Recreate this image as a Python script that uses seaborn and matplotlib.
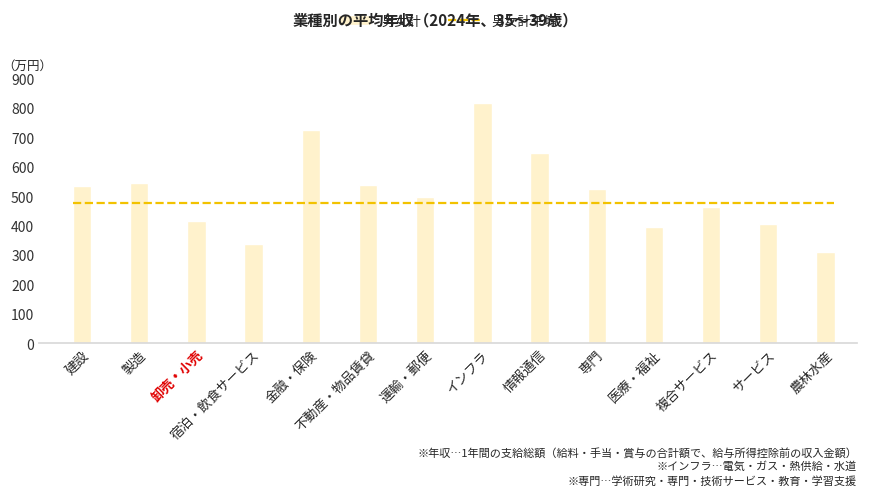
import matplotlib
matplotlib.use("Agg")
import matplotlib.pyplot as plt
import seaborn as sns
import pandas as pd

# データ
industries = ["建設", "製造", "卸売・小売", "宿泊・飲食サービス", "金融・保険",
              "不動産・物品賃貸", "運輸・郵便", "インフラ", "情報通信", "専門",
              "医療・福祉", "複合サービス", "サービス", "農林水産"]
incomes = [533, 543, 414, 336, 723, 537, 496, 815, 645, 523, 394, 462, 404, 309]
avg_income = 476

sns.set_theme(style="white")
plt.rcParams["font.family"] = ["Noto Sans CJK JP", "DejaVu Sans"]

df = pd.DataFrame({"industry": industries, "income": incomes})

fig, ax = plt.subplots(figsize=(8.7, 4.89), dpi=100)
fig.subplots_adjust(left=0.045, right=0.985, top=0.838, bottom=0.296)

sns.barplot(data=df, x="industry", y="income", color="#FFF2CC", saturation=1,
            width=0.32, ax=ax, label="男女計")
ax.plot([-0.15, len(industries) - 0.85], [avg_income, avg_income],
        color="#F2C200", linestyle="--", linewidth=1.6, label="男女計平均")

ax.set_ylim(0, 900)
ax.set_yticks(range(0, 901, 100))
ax.set_xlim(-0.75, len(industries) - 0.45)
ax.set_xlabel("")
ax.set_ylabel("")
ax.tick_params(axis="y", labelsize=10, colors="#333333", length=0)
ax.tick_params(axis="x", labelsize=9.5, length=0)
for s in ["top", "right", "left"]:
    ax.spines[s].set_visible(False)
ax.spines["bottom"].set_color("#d9d9d9")

ax.set_xticks(range(len(industries)))
ax.set_xticklabels(industries, rotation=45, ha="right", rotation_mode="anchor")
for lbl in ax.get_xticklabels():
    if lbl.get_text() == "卸売・小売":
        lbl.set_color("#E00000")
        lbl.set_fontweight("bold")

ax.text(-0.045, 1.035, "（万円）", transform=ax.transAxes, fontsize=9, ha="left")

fig.suptitle("業種別の平均年収（2024年、35～39歳）", fontsize=11, fontweight="bold", y=0.975)
handles, labels = ax.get_legend_handles_labels()
order = [labels.index("男女計"), labels.index("男女計平均")]
ax.legend([handles[i] for i in order], [labels[i] for i in order],
          loc="center", bbox_to_anchor=(0.5, 1.215), ncol=2, frameon=False,
          fontsize=9.5, handlelength=2.5, columnspacing=2.0)

notes = ["※年収…1年間の支給総額（給料・手当・賞与の合計額で、給与所得控除前の収入金額）",
         "※インフラ…電気・ガス・熱供給・水道",
         "※専門…学術研究・専門・技術サービス・教育・学習支援"]
for i, t in enumerate(notes):
    fig.text(0.985, 0.074 - i * 0.029, t, ha="right", va="center", fontsize=8)

plt.savefig("out.png", dpi=100)
plt.close()
